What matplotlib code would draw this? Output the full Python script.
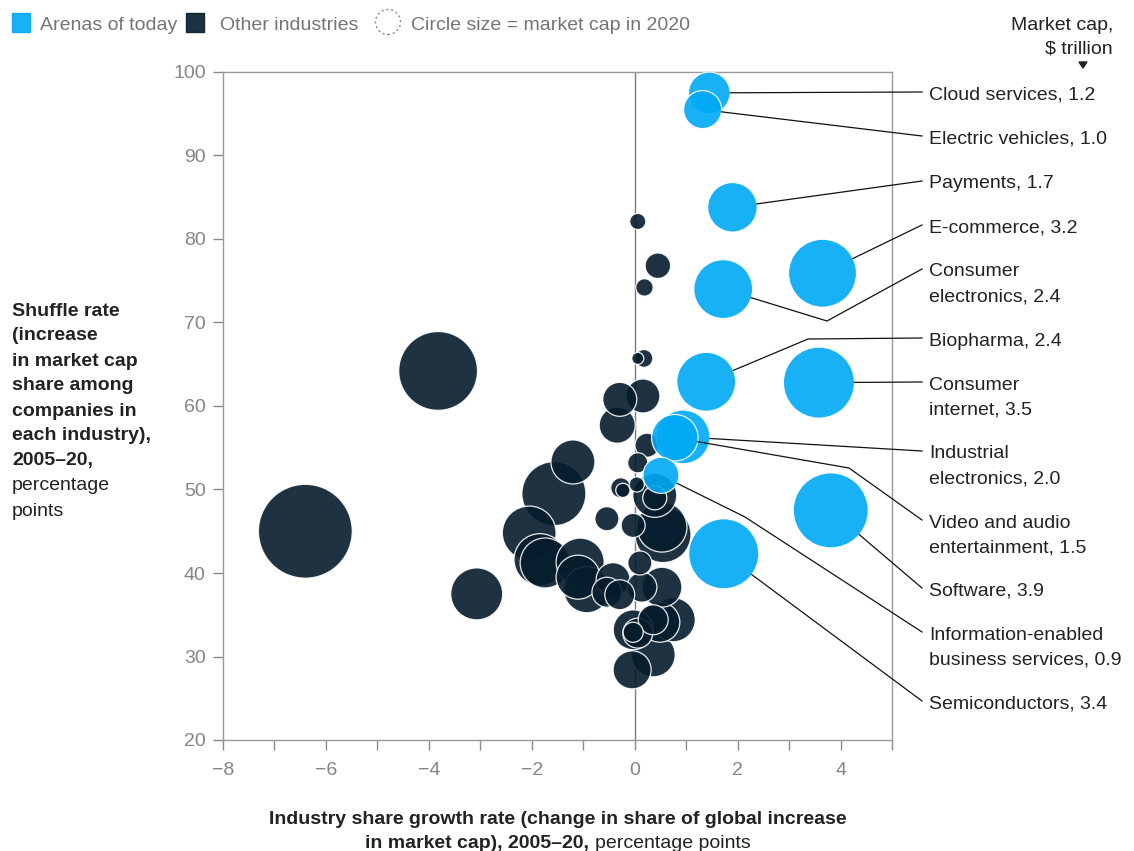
import numpy as np
import matplotlib
matplotlib.use("Agg")
import matplotlib.pyplot as plt
from matplotlib.lines import Line2D
from matplotlib.patches import Rectangle, Circle, Polygon
import matplotlib.transforms as mtransforms

plt.rcParams['font.family'] = ['Liberation Sans', 'DejaVu Sans']

# ---------------- data ----------------
arena_names = ["Cloud services", "Electric vehicles", "Payments", "E-commerce",
               "Consumer\nelectronics", "Biopharma", "Consumer\ninternet",
               "Industrial\nelectronics", "Video and audio\nentertainment",
               "Software", "Information-enabled\nbusiness services", "Semiconductors"]
arena_x = [1.45, 1.32, 1.90, 3.65, 1.72, 1.39, 3.58, 0.94, 0.78, 3.81, 0.51, 1.73]
arena_y = [97.5, 95.5, 83.8, 75.9, 74.0, 62.9, 62.8, 56.3, 56.2, 47.5, 51.7, 42.3]
arena_cap = [1.2, 1.0, 1.7, 3.2, 2.4, 2.4, 3.5, 2.0, 1.5, 3.9, 0.9, 3.4]

other_x = [0.06, 0.45, 0.19, -3.82, -6.40, 0.06, 0.18, -0.29, 0.16, -0.34, -1.20,
           -1.57, 0.24, 0.06, -0.27, -0.23, 0.04, 0.39, 0.39, -0.54, -0.03, 0.53,
           0.55, -2.05, -1.84, -1.74, -1.06, -1.10, -0.93, -0.42, -0.54, -0.29,
           -3.07, 0.10, 0.14, 0.53, 0.36, 0.49, 0.75, -0.03, 0.06, -0.03, 0.36, -0.05]
other_y = [82.1, 76.8, 74.2, 64.2, 45.0, 65.7, 65.7, 60.8, 61.2, 57.7, 53.3,
           49.5, 55.3, 53.2, 50.2, 49.9, 50.6, 49.0, 49.3, 46.5, 45.7, 45.5,
           44.6, 44.8, 41.6, 41.2, 41.3, 39.5, 38.0, 39.2, 37.7, 37.4,
           37.5, 41.2, 38.3, 38.3, 34.4, 34.1, 34.4, 33.2, 32.8, 32.9, 30.2, 28.4]
other_cap = [0.18, 0.45, 0.21, 4.3, 6.1, 0.10, 0.22, 0.80, 0.80, 0.90, 1.34,
             2.84, 0.40, 0.28, 0.28, 0.14, 0.16, 0.40, 1.34, 0.40, 0.40, 1.73,
             2.17, 2.0, 1.87, 1.73, 1.6, 1.34, 1.47, 0.80, 0.62, 0.62,
             1.87, 0.40, 0.62, 1.10, 0.62, 1.10, 1.34, 1.10, 0.62, 0.28, 1.34, 1.0]

x_ticks = [-8, -6, -4, -2, 0, 2, 4]
y_ticks = [20, 30, 40, 50, 60, 70, 80, 90, 100]

# ---------------- layout / style ----------------
W, H = 1134, 851
BLUE = '#00A9F4'
DARK = '#051C2C'
GRAY = '#8a8a8a'
TXT = '#222222'
R_K = 19.0  # px radius per sqrt($ trillion)
DY = 3      # text vertical nudge (px)

# label layout (figure pixels, origin top-left)
label_y_px = [92, 136, 181, 225, 269, 338, 382, 451, 520, 588, 632, 701]
label_elbow = [None, None, None, None, (827, 321), (808, 339), None, None,
               (849, 468), None, (745, 517), None]
LINE_END_X = 922
LABEL_X = 929

fig = plt.figure(figsize=(W / 100, H / 100), dpi=100)
ax = fig.add_axes([223 / W, (H - 740) / H, (892 - 223) / W, (740 - 72) / H])
px = mtransforms.Affine2D().scale(1, -1).translate(0, H)


def size_pts2(cap):
    r_px = R_K * np.sqrt(np.asarray(cap))
    return (2 * r_px * 0.72) ** 2


def ftext(x, y, s, **kw):
    return fig.text(x, y + DY, s, transform=px, **kw)


ax.set_xlim(-8, 5)
ax.set_ylim(20, 100)
ax.axvline(0, color='#7a7a7a', lw=1.0, zorder=1)

# other industries: larger first
order = np.argsort(other_cap)[::-1]
ax.scatter(np.array(other_x)[order], np.array(other_y)[order],
           s=size_pts2(np.array(other_cap)[order]), c=DARK, alpha=0.9,
           edgecolors='white', linewidths=0.9, zorder=2)
order = np.argsort(arena_cap)[::-1]
ax.scatter(np.array(arena_x)[order], np.array(arena_y)[order],
           s=size_pts2(np.array(arena_cap)[order]), c=BLUE, alpha=0.9,
           edgecolors='white', linewidths=0.9, zorder=3)

ax.set_xticks(range(-8, 6))
ax.set_xticklabels([str(t).replace('-', '\u2212') if t in x_ticks else '' for t in range(-8, 6)])
ax.set_yticks(y_ticks)
ax.set_yticklabels([str(t) for t in y_ticks])
ax.tick_params(axis='both', colors=GRAY, labelcolor='#858585', labelsize=14,
               length=7.5, width=1.0, direction='out')
ax.tick_params(axis='x', pad=8)
ax.tick_params(axis='y', pad=5)
for lbl in ax.get_yticklabels():
    lbl.set_y(lbl.get_position()[1])
for sp in ax.spines.values():
    sp.set_color('#9a9a9a')
    sp.set_linewidth(1.0)

# leader lines and labels
for i, name in enumerate(arena_names):
    cx, cy = ax.transData.transform((arena_x[i], arena_y[i]))
    r = R_K * np.sqrt(arena_cap[i])
    pts = []
    if label_elbow[i] is not None:
        pts.append((label_elbow[i][0], H - label_elbow[i][1]))
    end = (LINE_END_X, H - label_y_px[i])
    pts.append(end)
    tx, ty = pts[0]
    d = np.array([tx - cx, ty - cy])
    d = d / np.hypot(*d)
    start = (cx + d[0] * r, cy + d[1] * r)
    xs = [start[0]] + [p[0] for p in pts]
    ys = [start[1]] + [p[1] for p in pts]
    fig.add_artist(Line2D(xs, ys, transform=None, color='#111111', lw=0.9, zorder=5))
    lines = f"{name}, {arena_cap[i]:.1f}".split('\n')
    for j, ln in enumerate(lines):
        ftext(LABEL_X, label_y_px[i] + 25 * j, ln, ha='left', va='center',
              fontsize=14, color=TXT)

# header right
ftext(1113, 22, "Market cap,", ha='right', va='center', fontsize=14, color=TXT)
ftext(1113, 46, "$ trillion", ha='right', va='center', fontsize=14, color=TXT)
fig.add_artist(Polygon([(1079, H - 62), (1087, H - 62), (1083, H - 68)], closed=True,
                       transform=None, color=TXT))

# legend
fig.add_artist(Rectangle((12, H - 32), 18, 19, transform=None, color=BLUE, alpha=0.9))
ftext(40, 22, "Arenas of today", ha='left', va='center', fontsize=14, color='#757575')
fig.add_artist(Rectangle((186, H - 32), 18, 19, transform=None, color=DARK, alpha=0.9))
ftext(220, 22, "Other industries", ha='left', va='center', fontsize=14, color='#757575')
fig.add_artist(Circle((388, H - 22), 12.5, transform=None, fill=False, ec='#8a8a8a',
                      ls=(0, (1.5, 2)), lw=1.0))
ftext(411, 22, "Circle size = market cap in 2020", ha='left', va='center',
      fontsize=14, color='#757575')

# y label
ylab_bold = ["Shuffle rate", "(increase", "in market cap", "share among",
             "companies in", "each industry),", "2005\u201320,"]
ylab_reg = ["percentage", "points"]
y0 = 308
for j, ln in enumerate(ylab_bold):
    ftext(12, y0 + 25 * j, ln, ha='left', va='center', fontsize=14,
          fontweight='bold', color=TXT)
for j, ln in enumerate(ylab_reg):
    ftext(12, y0 + 25 * (len(ylab_bold) + j), ln, ha='left', va='center',
          fontsize=14, color=TXT)

# x label
ftext(558, 816, "Industry share growth rate (change in share of global increase",
      ha='center', va='center', fontsize=14, fontweight='bold', color=TXT)
renderer = fig.canvas.get_renderer()
tb = ftext(0, 840, "in market cap), 2005\u201320, ", ha='left', va='center',
           fontsize=14, fontweight='bold', color=TXT)
tr = ftext(0, 840, "percentage points", ha='left', va='center',
           fontsize=14, color=TXT)
wb = tb.get_window_extent(renderer).width
wr = tr.get_window_extent(renderer).width
x0 = 558 - (wb + wr) / 2
tb.set_x(x0)
tr.set_x(x0 + wb)

fig.savefig("out.png", dpi=100)
